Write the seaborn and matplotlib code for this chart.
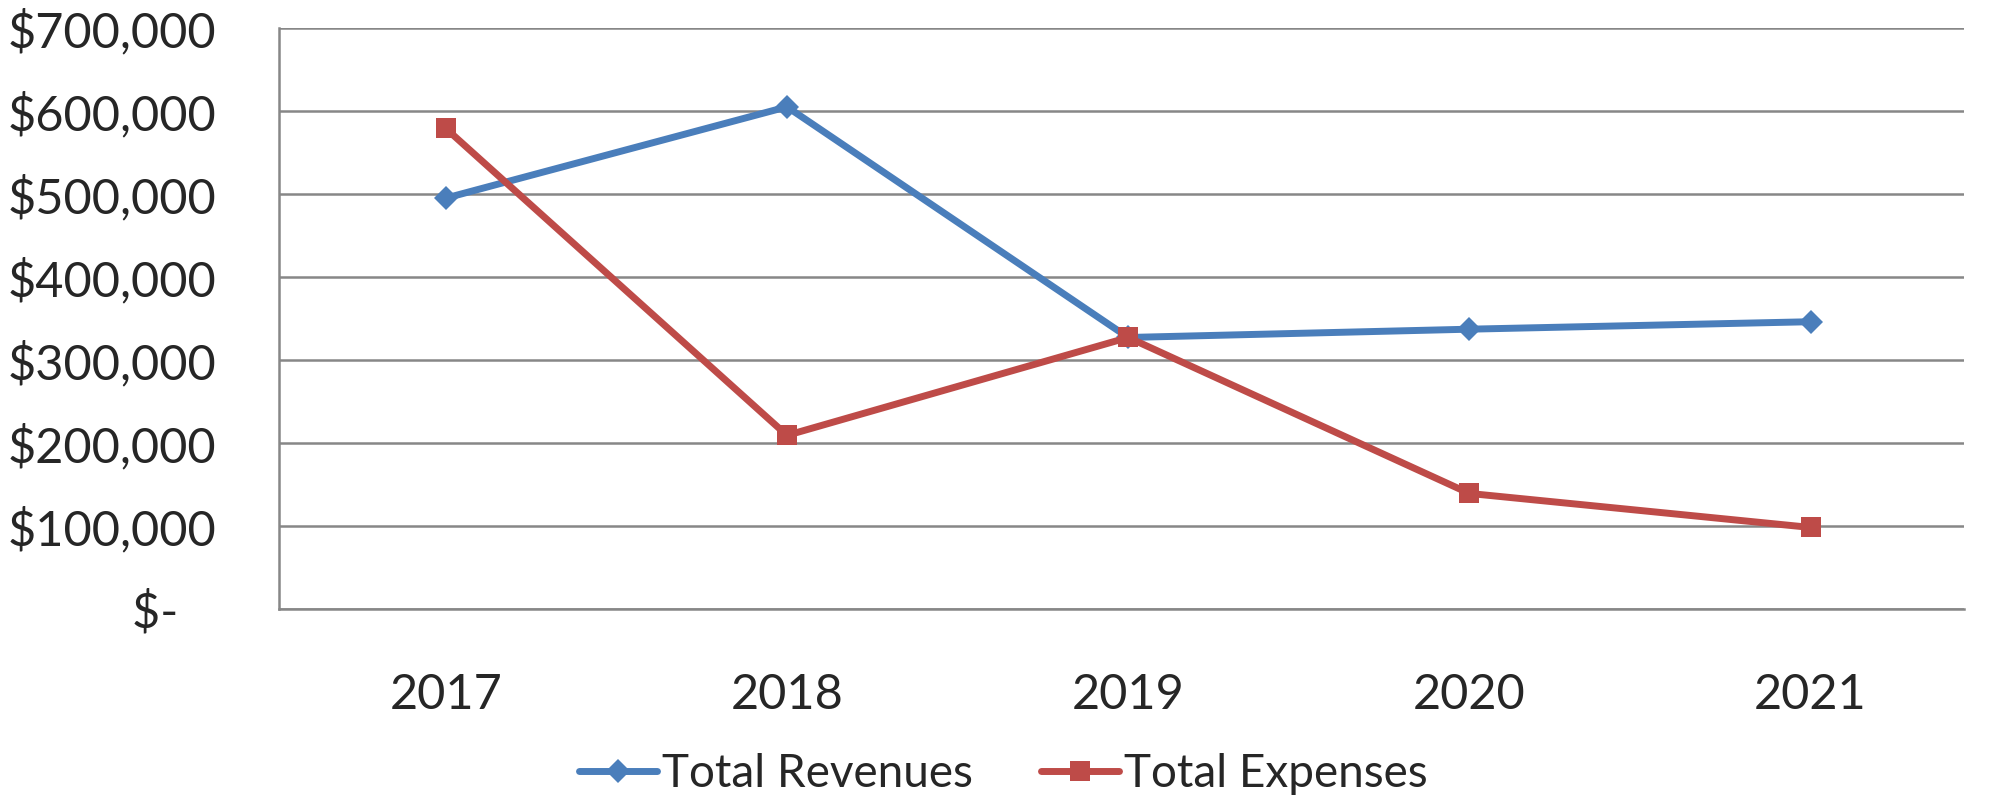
import matplotlib
matplotlib.use("Agg")
import matplotlib.pyplot as plt
import seaborn as sns
import pandas as pd

years = ["2017", "2018", "2019", "2020", "2021"]
revenues = [495000, 605000, 327000, 337000, 346000]
expenses = [579000, 209000, 327000, 139000, 98000]
yticks = [0, 100000, 200000, 300000, 400000, 500000, 600000, 700000]
ytick_labels = ["$-   ", "$100,000", "$200,000", "$300,000", "$400,000",
                "$500,000", "$600,000", "$700,000"]

sns.set_theme(style="white")
plt.rcParams["font.family"] = ["Lato", "DejaVu Sans"]

fig = plt.figure(figsize=(19.9, 8.01), dpi=100)
ax = fig.add_axes([0.140, 0.240, 0.847, 0.725])

df = pd.DataFrame({"x": list(range(len(years))), "rev": revenues, "exp": expenses})
blue = "#4A7EBB"
red = "#BE4B48"
sns.lineplot(data=df, x="x", y="rev", ax=ax, color=blue, lw=5, marker="D",
             markersize=12, markeredgewidth=0, label="Total Revenues")
sns.lineplot(data=df, x="x", y="exp", ax=ax, color=red, lw=5, marker="s",
             markersize=15, markeredgewidth=0, label="Total Expenses")

ax.set_xlim(-0.49, 4.45)
ax.set_ylim(0, 700000)
ax.set_yticks(yticks)
ax.set_yticklabels(ytick_labels)
ax.set_xticks(range(len(years)))
ax.set_xticklabels(years)
ax.set_xlabel("")
ax.set_ylabel("")
ax.tick_params(axis="y", labelsize=35, pad=45, length=0)
ax.tick_params(axis="x", labelsize=35, pad=46, length=0)
ax.yaxis.grid(True, color="#878787", lw=1.8)
ax.xaxis.grid(False)
for s in ["top", "right"]:
    ax.spines[s].set_visible(False)
for s in ["left", "bottom"]:
    ax.spines[s].set_color("#878787")
    ax.spines[s].set_linewidth(1.8)
ax.set_axisbelow(True)

ax.legend(loc="center", bbox_to_anchor=(0.43, -0.285), ncol=2, frameon=False,
          fontsize=33, handlelength=1.7, handletextpad=0.1, columnspacing=1.5)

fig.savefig("out.png", dpi=100)
